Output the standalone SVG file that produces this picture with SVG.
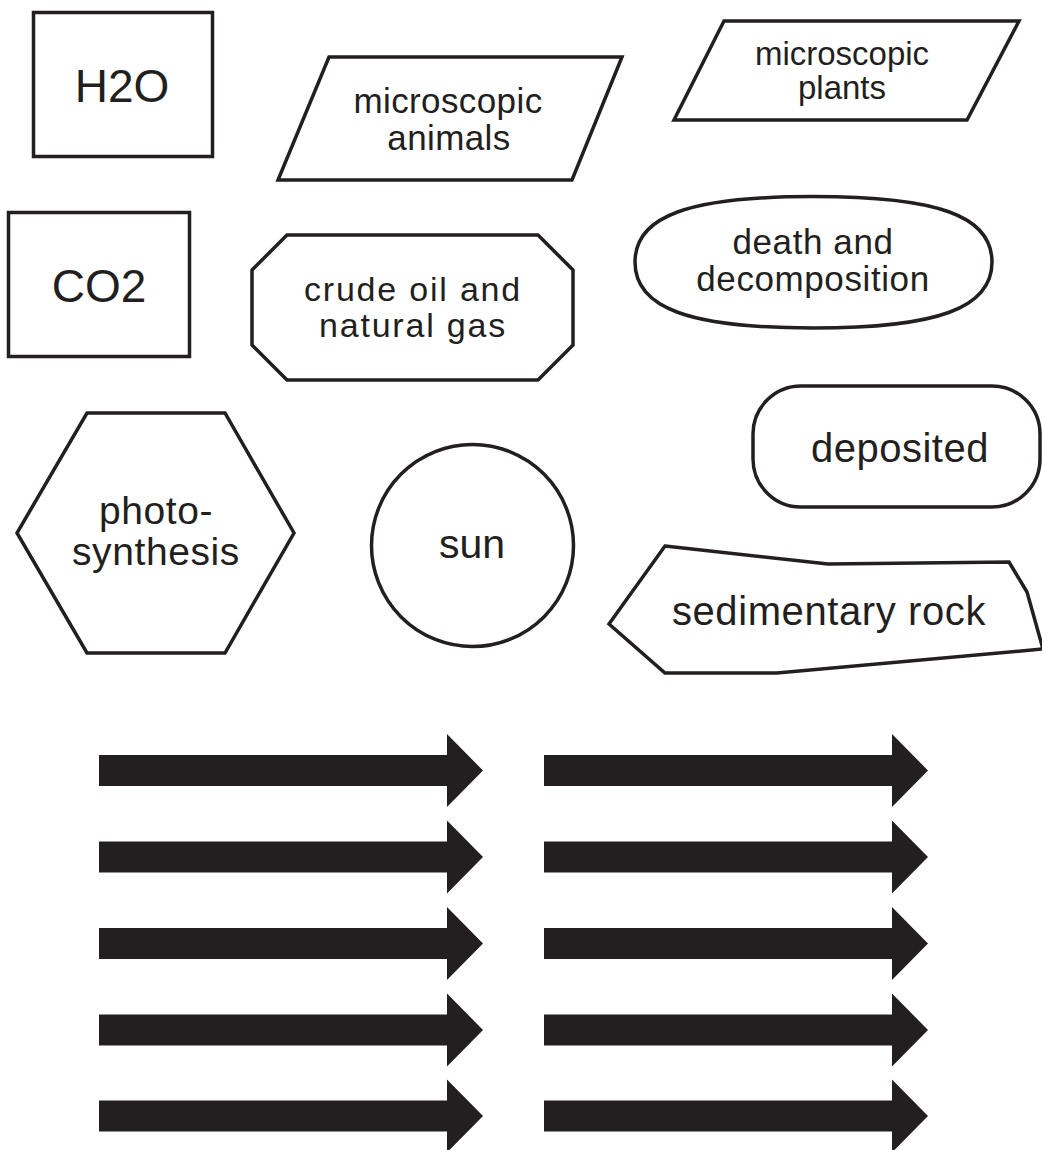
<svg xmlns="http://www.w3.org/2000/svg" xmlns:xlink="http://www.w3.org/1999/xlink" width="1042" height="1150" viewBox="0 0 1042 1150">
<style>
.s{fill:#fff;stroke:#231f20;stroke-width:3.5;stroke-linejoin:miter}
text{font-family:"Liberation Sans",Arial,sans-serif;fill:#231f20;text-anchor:middle}
</style>
<defs>
<path id="arr" d="M0,-15.5 H348 V-36.5 L384,0 L348,36.5 V15.5 H0 Z" fill="#231f20"/>
</defs>
<rect width="1042" height="1150" fill="#fff"/>
<g id="h2o">
<rect class="s" x="33.5" y="12.5" width="179" height="144"/>
<text x="122" y="102" font-size="46">H2O</text>
</g>
<g id="microscopic-animals">
<polygon class="s" points="329,57 622,57 572,180 278,180"/>
<text x="448" y="113" font-size="35" letter-spacing="0.4">microscopic</text>
<text x="449" y="150" font-size="35" letter-spacing="0.4">animals</text>
</g>
<g id="microscopic-plants">
<polygon class="s" points="724,21 1019,21 967,120 674,120"/>
<text x="842" y="65" font-size="33">microscopic</text>
<text x="842" y="99" font-size="33">plants</text>
</g>
<g id="co2">
<rect class="s" x="8.5" y="212.5" width="181" height="144"/>
<text x="99" y="302" font-size="46">CO2</text>
</g>
<g id="crude-oil">
<polygon class="s" points="287,235 538,235 573,270 573,345 538,380 287,380 252,345 252,270"/>
<text x="413" y="301" font-size="34" letter-spacing="1.8">crude oil and</text>
<text x="413" y="337" font-size="34" letter-spacing="1.8">natural gas</text>
</g>
<g id="death">
<path class="s" d="M813.5,196.5 C938,196.5 992,216 992,262 C992,308 938,328 813.5,328 C689,328 635,308 635,262 C635,216 689,196.5 813.5,196.5 Z"/>
<text x="813" y="254" font-size="35" letter-spacing="0.6">death and</text>
<text x="813" y="291" font-size="35" letter-spacing="0.6">decomposition</text>
</g>
<g id="deposited">
<rect class="s" x="753" y="386" width="287" height="121" rx="48" ry="48"/>
<text x="900" y="462" font-size="40" letter-spacing="0.5">deposited</text>
</g>
<g id="photosynthesis">
<polygon class="s" points="87,413 225,413 294,533 225,653 87,653 17,533"/>
<text x="156" y="524" font-size="39" letter-spacing="0.6">photo-</text>
<text x="156" y="565" font-size="39" letter-spacing="0.6">synthesis</text>
</g>
<g id="sun">
<circle class="s" cx="472.5" cy="545.5" r="101"/>
<text x="472" y="558" font-size="41">sun</text>
</g>
<g id="sedimentary-rock">
<polygon class="s" points="665,546 828,564 1009,562 1027,592 1043,649 777,673 665,673 609,624"/>
<text x="829" y="625" font-size="40" letter-spacing="0.6">sedimentary rock</text>
</g>
<g id="arrows">
<use xlink:href="#arr" href="#arr" x="99" y="770.5"/>
<use xlink:href="#arr" href="#arr" x="99" y="857"/>
<use xlink:href="#arr" href="#arr" x="99" y="943.5"/>
<use xlink:href="#arr" href="#arr" x="99" y="1030"/>
<use xlink:href="#arr" href="#arr" x="99" y="1116"/>
<use xlink:href="#arr" href="#arr" x="544" y="770.5"/>
<use xlink:href="#arr" href="#arr" x="544" y="857"/>
<use xlink:href="#arr" href="#arr" x="544" y="943.5"/>
<use xlink:href="#arr" href="#arr" x="544" y="1030"/>
<use xlink:href="#arr" href="#arr" x="544" y="1116"/>
</g>
</svg>
